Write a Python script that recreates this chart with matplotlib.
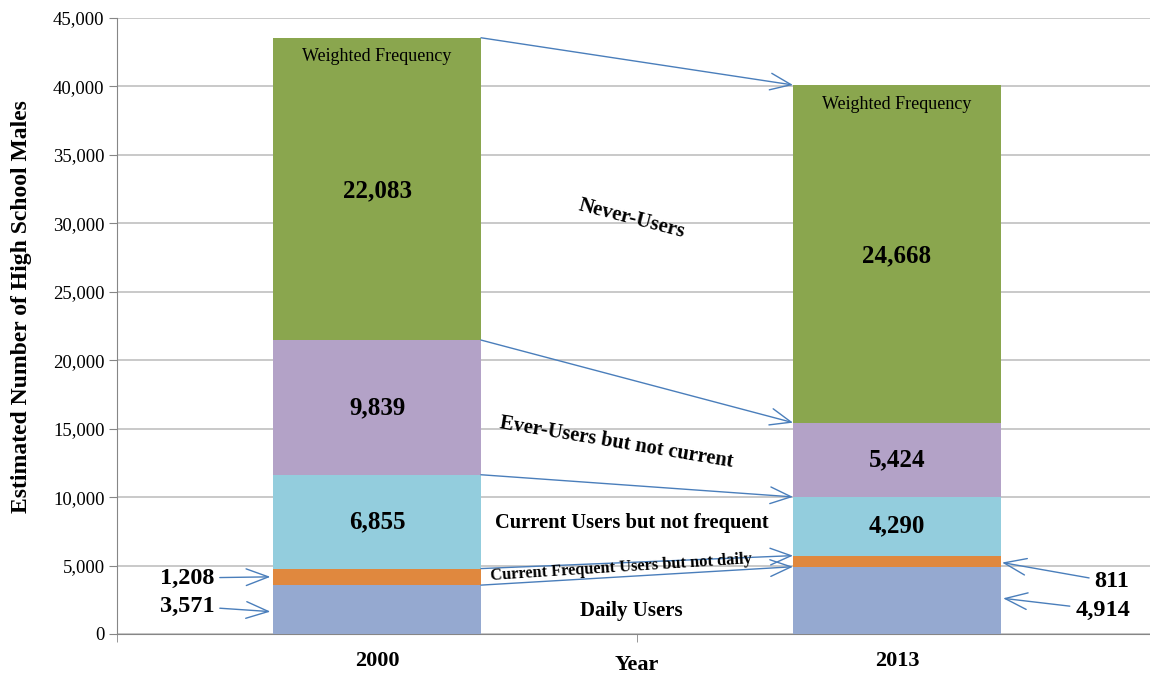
import numpy as np
import matplotlib.pyplot as plt
from matplotlib.ticker import FuncFormatter

plt.rcParams['font.family'] = ['Liberation Serif', 'DejaVu Serif']

years = ['2000', '2013']
daily = [3571, 4914]
frequent = [1208, 811]
current = [6855, 4290]
ever = [9839, 5424]
never = [22083, 24668]

colors = ['#95a9d0', '#e0883e', '#93cddd', '#b3a2c7', '#8aa64e']
series = [daily, frequent, current, ever, never]

fig = plt.figure(figsize=(11.5, 6.75), dpi=100)
ax = fig.add_axes([117/1150, 41/675, 1040/1150, 616/675])

x = np.arange(len(years))
w = 0.40
bottom = np.zeros(len(years))
tops = []
for vals, c in zip(series, colors):
    ax.bar(x, vals, w, bottom=bottom, color=c, zorder=3)
    bottom = bottom + np.array(vals)
    tops.append(bottom.copy())

ax.set_xlim(-0.5, 1.5)
ax.set_ylim(0, 45000)
ax.set_yticks(np.arange(0, 45001, 5000))
ax.yaxis.set_major_formatter(FuncFormatter(lambda v, p: f'{int(v):,}'))
ax.grid(axis='y', color='#c0c0c0', lw=1.2, zorder=0)
ax.set_xticks(x)
ax.set_xticklabels(years, fontsize=16, fontweight='bold')
ax.set_xticks([-0.5, 0.5, 1.5], minor=True)
ax.tick_params(axis='x', which='major', length=0, pad=12)
ax.tick_params(axis='x', which='minor', length=6, color='#868686')
ax.tick_params(axis='y', labelsize=13.5, length=6, color='#868686', pad=3)
for s in ['top', 'right']:
    ax.spines[s].set_visible(False)
for s in ['left', 'bottom']:
    ax.spines[s].set_color('#868686')
ax.set_xlabel('Year', fontsize=16, fontweight='bold', va='center')
ax.xaxis.set_label_coords(0.5, -0.05)
ax.set_ylabel('Estimated Number of High School Males', fontsize=17,
              fontweight='bold', va='center')
ax.yaxis.set_label_coords(-0.092, 0.531)

# value labels inside bars
big = dict(fontsize=18, fontweight='bold', ha='center', va='center', zorder=5)
for i in range(2):
    ax.text(x[i], tops[2][i] - current[i] / 2, f'{current[i]:,}', **big)
    ax.text(x[i], tops[3][i] - ever[i] / 2, f'{ever[i]:,}', **big)
ax.text(x[0], 32400, f'{never[0]:,}', **big)
ax.text(x[1], 27600, f'{never[1]:,}', **big)
for i in range(2):
    ax.text(x[i], tops[4][i] - 1400, 'Weighted Frequency', fontsize=13,
            ha='center', va='center', zorder=5)

# connecting arrows between bars
ac = '#4a7ebb'
aprops = dict(arrowstyle='->,head_length=1.5,head_width=0.6', color=ac, lw=1,
              shrinkA=0, shrinkB=0, mutation_scale=10)
for t in tops:
    ax.annotate('', xy=(x[1] - w / 2, t[1]), xytext=(x[0] + w / 2, t[0]),
                arrowprops=aprops, zorder=4)

# category labels
lab = dict(fontweight='bold', ha='center', va='center', zorder=5)
ax.text(0.49, 30300, 'Never-Users', fontsize=15, rotation=-14.5, **lab)
ax.text(0.46, 14000, 'Ever-Users but not current', fontsize=14.8, rotation=-9.5, **lab)
ax.text(0.49, 8100, 'Current Users but not frequent', fontsize=14.8, **lab)
ax.text(0.47, 4850, 'Current Frequent Users but not daily', fontsize=11.8,
        rotation=3.7, **lab)
ax.text(0.49, 1650, 'Daily Users', fontsize=15, **lab)

# side labels with arrows
sprops = dict(arrowstyle='->,head_length=1.6,head_width=0.6', color=ac, lw=1,
              shrinkB=0, mutation_scale=10)
side = dict(fontsize=17.5, fontweight='bold', va='center', arrowprops=sprops)
ax.annotate(f'{frequent[0]:,}', xy=(x[0] - w / 2 - 0.005, daily[0] + frequent[0] / 2),
            xytext=(-0.313, 4090), ha='right', **side)
ax.annotate(f'{daily[0]:,}', xy=(x[0] - w / 2 - 0.005, daily[0] / 2 - 150),
            xytext=(-0.313, 2045), ha='right', **side)
ax.annotate(f'{frequent[1]:,}', xy=(x[1] + w / 2 + 0.002, daily[1] + frequent[1] / 2 - 100),
            xytext=(1.380, 3800), ha='left', **side)
ax.annotate(f'{daily[1]:,}', xy=(x[1] + w / 2 + 0.004, daily[1] / 2 + 150),
            xytext=(1.343, 1750), ha='left', **side)

fig.savefig('out.png', dpi=100)
